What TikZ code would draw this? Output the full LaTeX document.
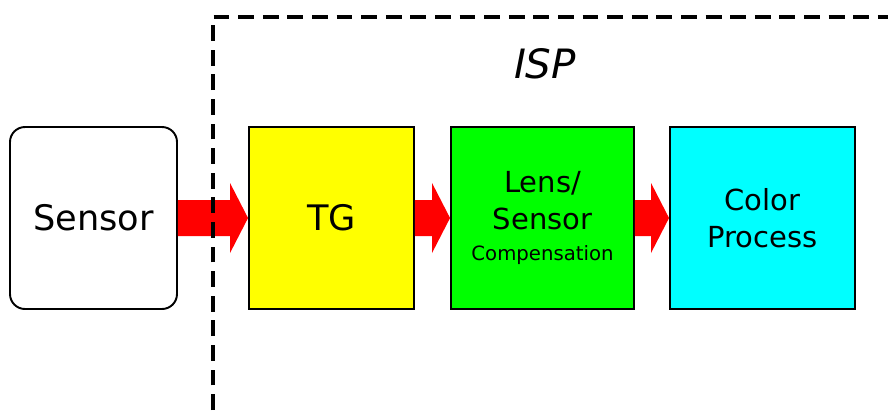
\documentclass[tikz,border=0pt]{standalone}
\usepackage{fontspec}
\setmainfont{DejaVu Sans}
\usetikzlibrary{calc}
\definecolor{tgyellow}{RGB}{255,255,0}
\definecolor{lensgreen}{RGB}{0,255,0}
\definecolor{colorcyan}{RGB}{0,255,255}
\definecolor{flowred}{RGB}{255,0,0}
\tikzset{
  stage/.style={draw=black, line width=1.1pt, minimum height=3.64cm, inner sep=0pt, align=center, font=\fontsize{16.5}{21}\selectfont},
  flowarrow/.style={fill=flowred, draw=none},
  ispframe/.style={draw=black, line width=2pt, dash pattern=on 9pt off 5pt}
}
\newcommand{\blockarrow}[2]{%
  \fill[flowarrow] ($(#1.east)+(0,0.36)$) -- ($(#2.west)+(-0.36,0.36)$) -- ($(#2.west)+(-0.36,0.7)$)
    -- (#2.west) -- ($(#2.west)+(-0.36,-0.7)$) -- ($(#2.west)+(-0.36,-0.36)$) -- ($(#1.east)+(0,-0.36)$) -- cycle;}
\begin{document}
\begin{tikzpicture}
  \useasboundingbox (0,0) rectangle (17.76,8.3);
  % === blocks ===
  \node[stage, rounded corners=0.3cm, minimum width=3.34cm, fill=white, font=\fontsize{20}{24}\selectfont] (sensor) at (1.87,3.94) {Sensor};
  \node[stage, minimum width=3.3cm, fill=tgyellow, font=\fontsize{20}{24}\selectfont] (tg) at (6.63,3.94) {TG};
  \node[stage, minimum width=3.66cm, fill=lensgreen] (lens) at (10.85,3.94) {Lens/\\Sensor\\[-3pt]{\fontsize{11.2}{13}\selectfont Compensation}};
  \node[stage, minimum width=3.7cm, fill=colorcyan] (color) at (15.25,3.94) {Color\\Process};
  % === arrows ===
  \blockarrow{sensor}{tg}
  \blockarrow{tg}{lens}
  \blockarrow{lens}{color}
  % === ISP frame ===
  \draw[ispframe] (4.26,0.1) -- (4.26,7.96) -- (17.76,7.96);
  \node[font=\fontsize{23}{27}\selectfont\itshape] (isp) at (10.9,7.02) {ISP};
\end{tikzpicture}
\end{document}
